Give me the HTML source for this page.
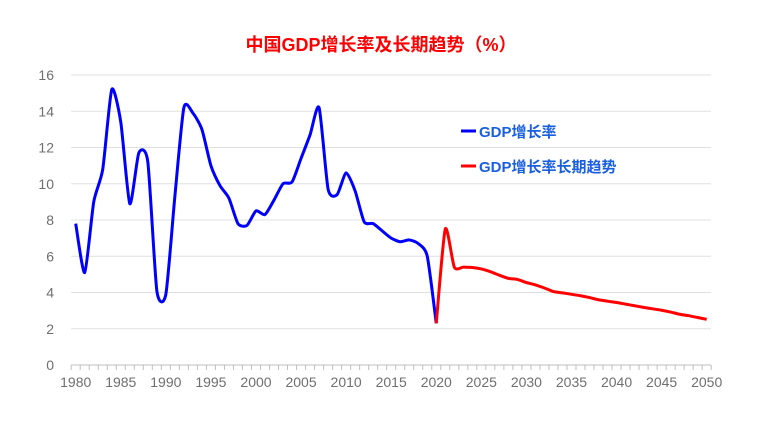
<!DOCTYPE html>
<html><head><meta charset="utf-8"><style>
html,body{margin:0;padding:0;background:#fff}
svg{display:block}
text{font-family:"Liberation Sans","Noto Sans CJK SC",sans-serif}
</style></head><body>
<svg id="s" width="763" height="429" xmlns="http://www.w3.org/2000/svg">
<text x="381" y="51" text-anchor="middle" font-size="18" font-weight="bold" fill="#ff0000">中国GDP增长率及长期趋势（%）</text>
<g id="grid"></g>
<g id="ax" fill="#6f6f6f" font-size="14"></g>
<path id="blue" fill="none" stroke="#0000ff" stroke-width="3" stroke-linejoin="round"/>
<path id="red" fill="none" stroke="#ff0000" stroke-width="3" stroke-linejoin="round"/>
<line x1="461" y1="131" x2="476" y2="131" stroke="#0000ff" stroke-width="3"/>
<text x="479" y="137" font-size="15" font-weight="bold" fill="#1a5fe0">GDP增长率</text>
<line x1="461" y1="166" x2="476" y2="166" stroke="#ff0000" stroke-width="3"/>
<text x="479" y="172" font-size="15" font-weight="bold" fill="#1a5fe0">GDP增长率长期趋势</text>
</svg>
<script>
var NS="http://www.w3.org/2000/svg";
var x0=71.2,w=9.014,y0=365,ys=18.125;
function X(i){return x0+w*(i+0.5)}
function Y(v){return y0-v*ys}
var g=document.getElementById('grid'),ax=document.getElementById('ax');
function el(p,t,a){var e=document.createElementNS(NS,t);for(var k in a)e.setAttribute(k,a[k]);p.appendChild(e);return e}
for(var v=0;v<=16;v+=2){
 el(g,'line',{x1:x0,x2:711,y1:Y(v),y2:Y(v),stroke:v==0?'#bfbfbf':'#e0e0e0','stroke-width':1});
 var t=el(ax,'text',{x:54,y:Y(v)+5,'text-anchor':'end'});t.textContent=v;
}
for(var i=0;i<=71;i++){el(g,'line',{x1:x0+w*i,x2:x0+w*i,y1:365,y2:370,stroke:'#bfbfbf','stroke-width':1});}
for(var yr=1980;yr<=2050;yr+=5){var t=el(ax,'text',{x:X(yr-1980),y:387,'text-anchor':'middle'});t.textContent=yr;}
var b=[7.8,5.1,9.0,10.8,15.2,13.4,8.9,11.7,11.2,4.1,3.9,9.3,14.2,13.9,13.0,11.0,9.9,9.2,7.8,7.7,8.5,8.3,9.1,10.0,10.1,11.4,12.7,14.2,9.7,9.4,10.6,9.6,7.9,7.8,7.4,7.0,6.8,6.9,6.7,6.0,2.3];
var r=[2.3,7.5,5.4,5.4,5.38,5.3,5.15,4.95,4.78,4.72,4.55,4.42,4.25,4.05,3.98,3.9,3.82,3.72,3.6,3.52,3.45,3.36,3.27,3.18,3.1,3.02,2.92,2.8,2.72,2.62,2.52];
function path(d,off){var p=d.map(function(v,i){return[X(i+off),Y(v)]});var s='M'+p[0][0]+','+p[0][1];
 for(var i=0;i<p.length-1;i++){var a=p[i-1]||p[i],c=p[i],n=p[i+1],m=p[i+2]||n,t=0.11;
 s+='C'+(c[0]+(n[0]-a[0])*t)+','+(c[1]+(n[1]-a[1])*t)+' '+(n[0]-(m[0]-c[0])*t)+','+(n[1]-(m[1]-c[1])*t)+' '+n[0]+','+n[1];}
 return s}
document.getElementById('blue').setAttribute('d',path(b,0));
document.getElementById('red').setAttribute('d',path(r,40));
</script>
</body></html>
